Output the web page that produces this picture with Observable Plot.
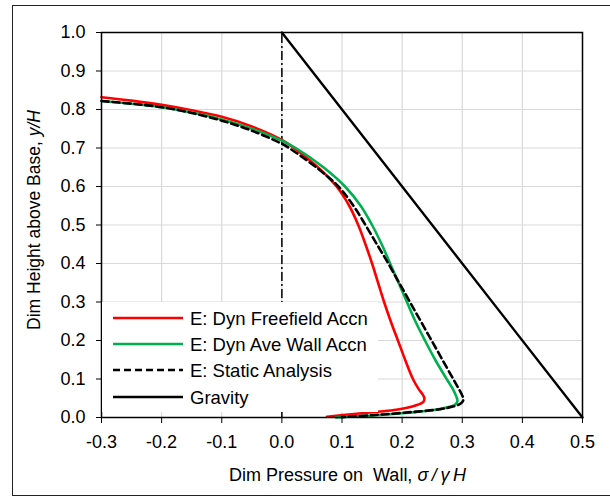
<!DOCTYPE html>
<html>
<head>
<meta charset="utf-8">
<script src="https://cdn.jsdelivr.net/npm/d3@7"></script>
<script src="https://cdn.jsdelivr.net/npm/@observablehq/plot@0.6"></script>
<style>
  html, body { margin: 0; padding: 0; background: #fff; overflow: hidden; }
  #chart { position: relative; width: 610px; height: 497px; }
  #frame { position: absolute; left: 12px; top: 5px; width: 640px; height: 491px;
           border: 1px solid #222; box-sizing: border-box; pointer-events: none; }
  #chart svg { position: absolute; left: 0; top: 0; }
</style>
</head>
<body>
<div id="chart"><div id="frame"></div></div>
<script>
// Tick values
const xTicks = [-0.3, -0.2, -0.1, 0.0, 0.1, 0.2, 0.3, 0.4, 0.5];
const yTicks = [0.0, 0.1, 0.2, 0.3, 0.4, 0.5, 0.6, 0.7, 0.8, 0.9, 1.0];

// Dimensionless pressure (x) vs dimensionless height (y), one list per analysis
const freefield = [
  [-0.3, 0.832], [-0.25, 0.823], [-0.2, 0.812], [-0.15, 0.798], [-0.1, 0.781],
  [-0.05, 0.756], [0.0, 0.721], [0.02, 0.70], [0.06, 0.65], [0.091, 0.60],
  [0.112, 0.55], [0.127, 0.50], [0.139, 0.45], [0.150, 0.40], [0.160, 0.35],
  [0.170, 0.30], [0.181, 0.25], [0.193, 0.20], [0.205, 0.15], [0.218, 0.10],
  [0.227, 0.075], [0.234, 0.06], [0.237, 0.05], [0.235, 0.04], [0.226, 0.033],
  [0.21, 0.026], [0.19, 0.02], [0.16, 0.015], [0.12, 0.009], [0.075, 0.002]
];

const wallAverage = [
  [-0.3, 0.822], [-0.25, 0.815], [-0.2, 0.806], [-0.15, 0.792], [-0.1, 0.774],
  [-0.05, 0.750], [0.0, 0.719], [0.023, 0.70], [0.069, 0.65], [0.105, 0.60],
  [0.131, 0.55], [0.150, 0.50], [0.166, 0.45], [0.180, 0.40], [0.194, 0.35],
  [0.208, 0.30], [0.222, 0.25], [0.238, 0.20], [0.255, 0.15], [0.274, 0.10],
  [0.284, 0.075], [0.290, 0.055], [0.292, 0.042], [0.287, 0.032], [0.272, 0.025],
  [0.25, 0.019], [0.2, 0.011], [0.15, 0.005], [0.09, 0.0]
];

const staticAnalysis = [
  [-0.3, 0.822], [-0.25, 0.815], [-0.2, 0.806], [-0.15, 0.791], [-0.1, 0.771],
  [-0.05, 0.745], [0.0, 0.711], [0.012, 0.70], [0.057, 0.65], [0.094, 0.60],
  [0.119, 0.55], [0.139, 0.50], [0.158, 0.45], [0.177, 0.40], [0.195, 0.35],
  [0.213, 0.30], [0.231, 0.25], [0.249, 0.20], [0.267, 0.15], [0.285, 0.10],
  [0.294, 0.075], [0.300, 0.057], [0.302, 0.047], [0.298, 0.037], [0.286, 0.029],
  [0.26, 0.021], [0.2, 0.012], [0.15, 0.006], [0.1, 0.001]
];

const gravity = [[0.0, 1.0], [0.5, 0.0]];

// Wall line at zero pressure
const wallLine = [0.0];

const series = [
  {label: "E: Dyn Freefield Accn", color: "#ff0000", dash: null},
  {label: "E: Dyn Ave Wall Accn", color: "#00b050", dash: null},
  {label: "E: Static Analysis", color: "#000000", dash: "7,4"},
  {label: "Gravity", color: "#000000", dash: null}
];

const fmt = d => d.toFixed(1);

const plot = Plot.plot({
  width: 610,
  height: 497,
  marginLeft: 101,
  marginRight: 28,
  marginTop: 32,
  marginBottom: 80,
  style: {fontFamily: "'Liberation Sans', Arial, sans-serif", fontSize: "18px", color: "#000", background: "transparent"},
  x: {domain: [-0.3, 0.5]},
  y: {domain: [0, 1]},
  marks: [
    Plot.gridX(xTicks, {stroke: "#d9d9d9", strokeOpacity: 1, strokeWidth: 1.2}),
    Plot.gridY(yTicks, {stroke: "#d9d9d9", strokeOpacity: 1, strokeWidth: 1.2}),
    Plot.ruleX(wallLine, {y1: 0, y2: 1, stroke: "#000", strokeWidth: 1.5, strokeDasharray: "9,3,2,3"}),
    Plot.line(freefield, {x: d => d[0], y: d => d[1], stroke: series[0].color, strokeWidth: 2.6, curve: "catmull-rom"}),
    Plot.line(wallAverage, {x: d => d[0], y: d => d[1], stroke: series[1].color, strokeWidth: 2.6, curve: "catmull-rom"}),
    Plot.line(staticAnalysis, {x: d => d[0], y: d => d[1], stroke: "#000", strokeWidth: 2.6, strokeDasharray: series[2].dash, curve: "catmull-rom"}),
    Plot.line(gravity, {x: d => d[0], y: d => d[1], stroke: "#000", strokeWidth: 2.4}),
    Plot.frame({stroke: "#000", strokeWidth: 1.5}),
    Plot.axisX({ticks: xTicks, tickFormat: fmt, tickSize: 6, tickPadding: 12, fontSize: 18, label: null}),
    Plot.axisY({ticks: yTicks, tickFormat: fmt, tickSize: 5, tickPadding: 11, fontSize: 18, label: null})
  ]
});

document.getElementById("chart").appendChild(plot);

// Axis titles and legend
const svg = d3.select(plot);
const font = "'Liberation Sans', Arial, sans-serif";

const xTitle = svg.append("text")
  .attr("x", 229).attr("y", 481)
  .attr("text-anchor", "start")
  .attr("font-family", font).attr("font-size", 18).attr("fill", "#000")
  .style("white-space", "pre");
xTitle.append("tspan").text("Dim Pressure on  Wall, ");
xTitle.append("tspan").attr("font-style", "italic").text("\u03c3\u2009/\u2009\u03b3\u2009H");

const yTitle = svg.append("text")
  .attr("transform", "translate(40,220) rotate(-90)")
  .attr("text-anchor", "middle")
  .attr("font-family", font).attr("font-size", 17.5).attr("fill", "#000")
  .style("white-space", "pre");
yTitle.append("tspan").text("Dim Height above Base, ");
yTitle.append("tspan").attr("font-style", "italic").text("y/H");

const legend = svg.append("g").attr("text-anchor", "start");
legend.append("rect")
  .attr("x", 102).attr("y", 302).attr("width", 276).attr("height", 110)
  .attr("fill", "#fff");
const rowY = [318, 344, 370, 397];
series.forEach((s, i) => {
  legend.append("line")
    .attr("x1", 113).attr("x2", 183).attr("y1", rowY[i]).attr("y2", rowY[i])
    .attr("stroke", s.color).attr("stroke-width", 2.6)
    .attr("stroke-dasharray", s.dash);
  legend.append("text")
    .attr("x", 190).attr("y", rowY[i] + 6.5)
    .attr("font-family", font).attr("font-size", 18.5).attr("fill", "#000")
    .text(s.label);
});
</script>
</body>
</html>
